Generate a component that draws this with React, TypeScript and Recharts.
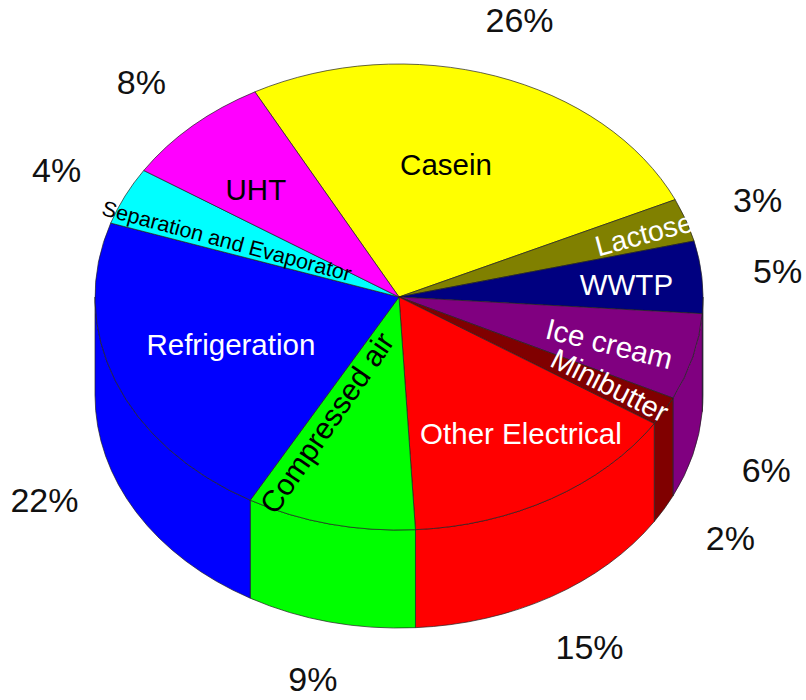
import { PieChart, Pie } from 'recharts'

const categories = ['Casein', 'Lactose', 'WWTP', 'Ice cream', 'Minibutter', 'Other Electrical', 'Compressed air', 'Refrigeration', 'Separation and Evaporator', 'UHT']
const shares = [26, 3, 5, 6, 2, 15, 9, 22, 4, 8]
const colors = ['#ffff00', '#808000', '#000080', '#800080', '#800000', '#ff0000', '#00ff00', '#0000ff', '#00ffff', '#ff00ff']
const textColors = ['#000', '#fff', '#fff', '#fff', '#fff', '#fff', '#000', '#fff', '#000', '#000']

const chartData = categories.map((name, i) => ({ name, value: shares[i], fill: colors[i] }))

// label placement inside the slices: radius fraction, angle nudge, rotation
const labelRadius = [0.59, 0.85, 0.75, 0.72, 0.79, 0.71, 0.59, 0.59, 0.615, 0.66]
const labelNudge = [3.3, -0.7, -0.7, -1.2, 0.6, 4.3, -10.6, -0.7, 2.8, 2.8]
const labelTilt = [0, -15, 0, 14, 27, 0, -55.5, 0, 15, 0]
const labelSize = [29.5, 28.5, 29.5, 29.5, 29, 29.5, 30, 29.5, 21.5, 29.5]

const RAD = Math.PI / 180
const SQUASH = 233 / 304
const DEPTH = 98
const FONT = '"Liberation Sans", Arial, sans-serif'

const px = (cx: number, r: number, a: number) => cx + r * Math.cos(a * RAD)
const py = (cy: number, r: number, a: number) => cy - r * SQUASH * Math.sin(a * RAD)

function Slice3D(props: any) {
    const { cx, cy, outerRadius: r, startAngle, endAngle, fill } = props
    const ry = r * SQUASH
    const large = Math.abs(startAngle - endAngle) > 180 ? 1 : 0
    const top = `M${cx},${cy} L${px(cx, r, startAngle)},${py(cy, r, startAngle)} A${r},${ry} 0 ${large} 1 ${px(cx, r, endAngle)},${py(cy, r, endAngle)} Z`

    // the wall only shows on the front half of the rim
    const from = Math.min(startAngle, 0)
    const to = Math.max(endAngle, -180)
    let wall = null
    if (from > to) {
        const x1 = px(cx, r, from)
        const y1 = py(cy, r, from)
        const x2 = px(cx, r, to)
        const y2 = py(cy, r, to)
        wall = `M${x1},${y1} A${r},${ry} 0 0 1 ${x2},${y2} L${x2},${y2 + DEPTH} A${r},${ry} 0 0 0 ${x1},${y1 + DEPTH} Z`
    }

    return (
        <g>
            {wall && <path d={wall} fill={fill} stroke="#222" strokeWidth={0.7} />}
            <path d={top} fill={fill} stroke="#222" strokeWidth={0.7} />
        </g>
    )
}

function SliceLabels(props: any) {
    const { cx, cy, outerRadius: r, midAngle, index } = props
    const a = midAngle + labelNudge[index]
    const x = px(cx, r * labelRadius[index], a)
    const y = py(cy, r * labelRadius[index], a)

    // percentages sit on the rim plane: upper ones at the top face, lower ones at the base
    const front = Math.sin(midAngle * RAD) < 0
    const outX = px(cx, r * 1.25, midAngle)
    const outY = py(front ? cy + 98 : cy - 1, r * 1.25, midAngle)

    return (
        <g fontFamily={FONT}>
            <text
                x={x}
                y={y}
                fill={textColors[index]}
                fontSize={labelSize[index]}
                textAnchor="middle"
                dominantBaseline="central"
                transform={`rotate(${labelTilt[index]} ${x} ${y})`}
            >
                {categories[index]}
            </text>
            <text x={outX} y={outY} fill="#111" fontSize={34} textAnchor="middle" dominantBaseline="central">
                {shares[index]}%
            </text>
        </g>
    )
}

export default function App() {
    return (
        <div style={{ position: 'absolute', left: 0, top: 0, width: 806, height: 700, background: '#fff', overflow: 'hidden' }}>
            <PieChart width={806} height={700} margin={{ top: 0, right: 0, bottom: 0, left: 0 }}>
                <Pie
                    data={chartData}
                    dataKey="value"
                    nameKey="name"
                    cx={399}
                    cy={297}
                    innerRadius={0}
                    outerRadius={304}
                    startAngle={118.3}
                    endAngle={-241.7}
                    paddingAngle={0}
                    stroke="none"
                    isAnimationActive={false}
                    shape={Slice3D}
                    label={SliceLabels}
                    labelLine={false}
                />
            </PieChart>
        </div>
    )
}
